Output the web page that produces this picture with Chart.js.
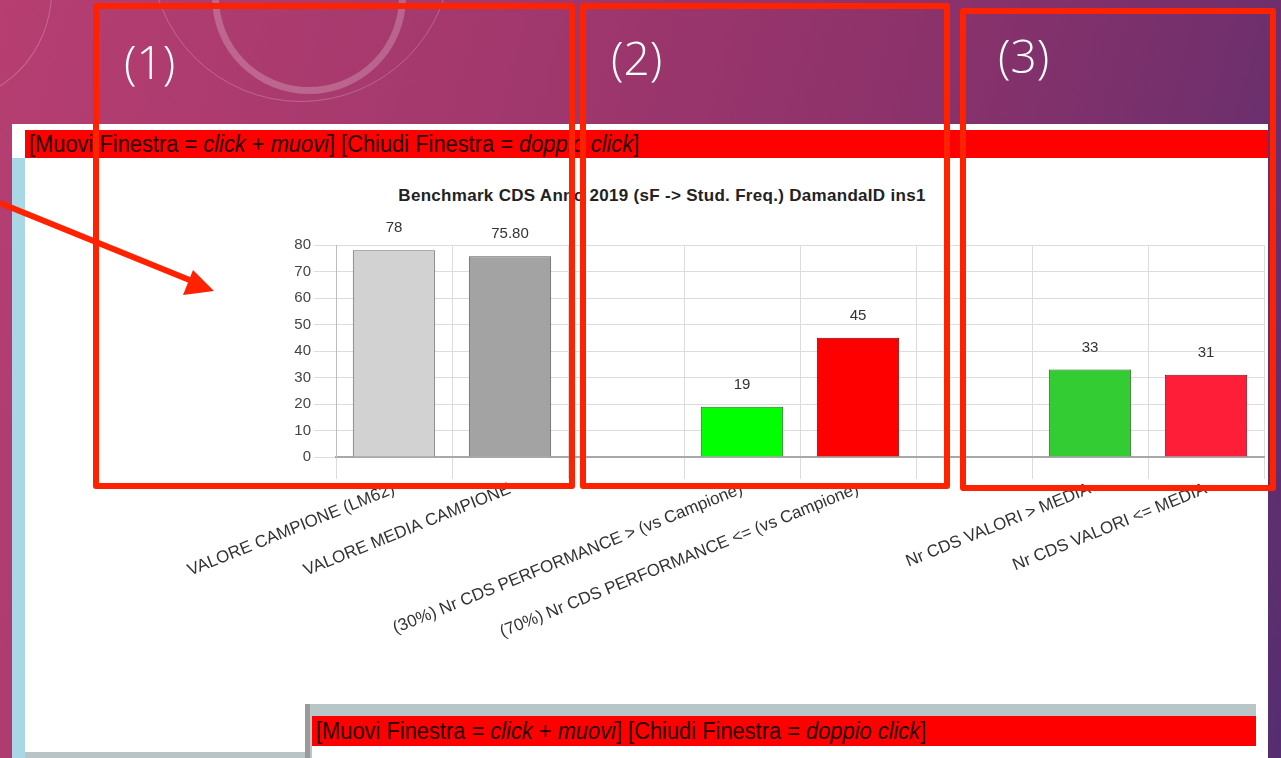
<!DOCTYPE html>
<html lang="it">
<head>
    <meta charset="UTF-8">
    <title>Benchmark CDS Anno 2019</title>
    <style>
        body {
            margin: 0;
            width: 1281px;
            height: 758px;
            overflow: hidden;
            position: relative;
            font-family: "Liberation Sans", Arial, sans-serif;
            background: linear-gradient(105deg, #b63e71 0%, #a2386d 35%, #8d326b 62%, #74306c 82%, #552e70 100%);
        }
        .ring {
            position: absolute;
            border-radius: 50%;
            border-style: solid;
            border-color: rgba(255, 255, 255, 0.22);
        }
        .window {
            position: absolute;
            background: #fff;
        }
        .bar-msg {
            position: absolute;
            background: #ff0000;
            color: #250000;
            font-size: 23px;
            white-space: nowrap;
            overflow: hidden;
            padding-left: 4px;
            box-sizing: border-box;
        }
        .bar-msg span {
            display: inline-block;
            transform: scaleX(0.95);
            transform-origin: left center;
        }
        .chart-box {
            position: absolute;
            left: 25px;
            top: 160px;
            width: 1274px;
            height: 540px;
        }
        .title {
            position: absolute;
            left: 25px;
            width: 1274px;
            top: 186px;
            text-align: center;
            font-weight: bold;
            font-size: 17px;
            letter-spacing: 0.3px;
            color: #222;
        }
        .frame {
            position: absolute;
            border: 6px solid #ff2200;
            border-radius: 3px;
            pointer-events: none;
        }
        .num {
            position: absolute;
            color: #fff;
            font-family: "Open Sans", "Noto Sans", sans-serif;
            font-size: 46px;
            font-weight: 300;
        }
    </style>
</head>
<body>
    <!-- decorazioni sfondo -->
    <div class="ring" style="left:212px; top:-100px; width:180px; height:180px; border-width:7px;"></div>
    <div class="ring" style="left:150px; top:-200px; width:300px; height:300px; border-width:1px;"></div>
    <div class="ring" style="left:-160px; top:-120px; width:210px; height:220px; border-width:1px;"></div>

    <!-- finestra principale -->
    <div class="window" style="left:12px; top:124px; width:1256px; height:640px;"></div>
    <div class="window" style="left:12px; top:158px; width:13px; height:600px; background:#a9d7e6;"></div>
    <div class="bar-msg" style="left:25px; top:130px; width:1243px; height:28px; line-height:28px;"><span>[Muovi Finestra = <i>click</i> + <i>muovi</i>] [Chiudi Finestra = <i>doppio click</i>]</span></div>

    <div class="title">Benchmark CDS Anno 2019 (sF -&gt; Stud. Freq.) DamandaID ins1</div>
    <div class="chart-box">
        <canvas id="benchChart"></canvas>
    </div>

    <!-- seconda finestra in basso -->
    <div class="window" style="left:305px; top:704px; width:951px; height:60px; background:#b8c6c8;"></div>
    <div class="window" style="left:305px; top:704px; width:5px; height:60px; background:#9a9a9a;"></div>
    <div class="bar-msg" style="left:312px; top:716px; width:944px; height:30px; line-height:30px;"><span>[Muovi Finestra = <i>click</i> + <i>muovi</i>] [Chiudi Finestra = <i>doppio click</i>]</span></div>
    <div class="window" style="left:312px; top:746px; width:944px; height:14px;"></div>
    <div class="window" style="left:25px; top:752px; width:280px; height:8px; background:#b9c4c6;"></div>

    <!-- riquadri di evidenziazione -->
    <div class="frame" style="left:93px; top:3px; width:470px; height:474px;"></div>
    <div class="frame" style="left:580px; top:3px; width:358px; height:474px;"></div>
    <div class="frame" style="left:960px; top:8px; width:304px; height:471px;"></div>
    <div class="num" style="left:124px; top:30px;">(1)</div>
    <div class="num" style="left:611px; top:26px;">(2)</div>
    <div class="num" style="left:998px; top:24px;">(3)</div>

    <svg width="1281" height="758" style="position:absolute; left:0; top:0; pointer-events:none;">
        <line x1="0" y1="203" x2="192" y2="281" stroke="#ff2200" stroke-width="6"/>
        <polygon points="214,291 183,295 193,270" fill="#ff2200"/>
    </svg>

    <script src="https://cdn.jsdelivr.net/npm/chart.js"></script>
    <script>
        // Categorie (le vuote fanno da separatori tra i gruppi)
        const categories = [
            'VALORE CAMPIONE (LM62)',
            'VALORE MEDIA CAMPIONE',
            '',
            '(30%) Nr CDS PERFORMANCE > (vs Campione)',
            '(70%) Nr CDS PERFORMANCE <= (vs Campione)',
            '',
            'Nr CDS VALORI > MEDIA',
            'Nr CDS VALORI <= MEDIA'
        ];
        const values = [78, 75.8, null, 19, 45, null, 33, 31];
        const valueLabels = ['78', '75.80', '', '19', '45', '', '33', '31'];
        const barColors = ['#d2d2d2', '#a3a3a3', '#fff', '#00ff00', '#ff0000', '#fff', '#33cc33', '#ff1e38'];
        const borderColors = ['#6a6a6a', '#5a5a5a', '#fff', '#2b6b2b', '#7a0000', '#fff', '#2b5e2b', '#7a1020'];
        const yMax = 80;
        const yStep = 10;

        // Etichette dei valori sopra le barre
        const valueLabelPlugin = {
            id: 'valueLabels',
            afterDatasetsDraw(chart) {
                const ctx = chart.ctx;
                const meta = chart.getDatasetMeta(0);
                ctx.save();
                ctx.font = '15px "Liberation Sans", Arial, sans-serif';
                ctx.fillStyle = '#333';
                ctx.textAlign = 'center';
                ctx.textBaseline = 'middle';
                meta.data.forEach((bar, i) => {
                    if (values[i] === null) return;
                    ctx.fillText(valueLabels[i], bar.x, bar.y - 22);
                });
                ctx.restore();
            }
        };

        Chart.defaults.font.family = '"Liberation Sans", Arial, sans-serif';

        new Chart(document.getElementById('benchChart').getContext('2d'), {
            type: 'bar',
            data: {
                labels: categories,
                datasets: [{
                    data: values,
                    backgroundColor: barColors,
                    borderColor: borderColors,
                    borderWidth: 1,
                    barPercentage: 0.71,
                    categoryPercentage: 1
                }]
            },
            options: {
                responsive: true,
                maintainAspectRatio: false,
                animation: false,
                layout: {
                    padding: { top: 85, right: 35, bottom: 0, left: 0 }
                },
                plugins: {
                    legend: { display: false },
                    tooltip: { enabled: false }
                },
                scales: {
                    x: {
                        afterFit(scale) { scale.height = 243; },
                        grid: {
                            color: '#dcdcdc',
                            tickLength: 22,
                            offset: true
                        },
                        border: { color: '#a8a8a8', width: 2 },
                        ticks: {
                            autoSkip: false,
                            minRotation: 22,
                            maxRotation: 22,
                            padding: 0,
                            color: '#333',
                            font: { size: 17 }
                        }
                    },
                    y: {
                        min: 0,
                        max: yMax,
                        afterFit(scale) { scale.width = 311; },
                        grid: {
                            color: '#dcdcdc',
                            tickLength: 22
                        },
                        border: { color: '#bdbdbd' },
                        ticks: {
                            stepSize: yStep,
                            padding: 3,
                            color: '#444',
                            font: { size: 15 }
                        }
                    }
                }
            },
            plugins: [valueLabelPlugin]
        });
    </script>
</body>
</html>
